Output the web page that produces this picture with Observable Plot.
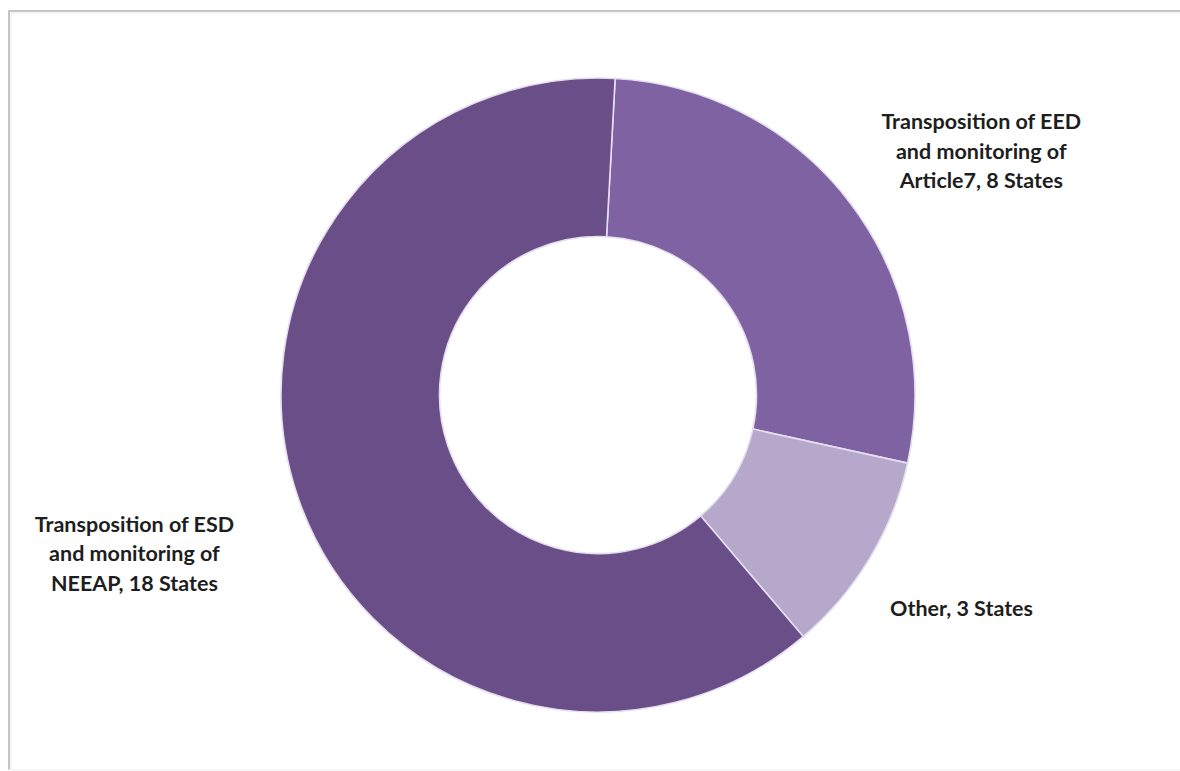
<!DOCTYPE html>
<html><head><meta charset="utf-8">
<script src="https://cdn.jsdelivr.net/npm/d3@7"></script>
<script src="https://cdn.jsdelivr.net/npm/@observablehq/plot@0.6"></script>
<style>
html,body{margin:0;padding:0;background:#fff;width:1180px;height:771px;overflow:hidden;}
#frame{position:absolute;left:8px;top:10px;width:1180px;height:757px;border-top:2px solid #c4c4c4;border-left:2px solid #c4c4c4;border-bottom:1px solid #f0f0f0;box-shadow:inset 2px 2px 3px rgba(0,0,0,0.05);}
#chart{position:absolute;left:0;top:0;}
</style></head><body><div id="frame"></div><div id="chart"></div>
<script>
// ---- data ----
const categories = ["Transposition of EED\nand monitoring of\nArticle7", "Other", "Transposition of ESD\nand monitoring of\nNEEAP"];
const states = [8, 3, 18];
const unit = "States";
const colors = ["#7f62a2", "#b5a8ca", "#6a4e87"];

// ---- layout ----
const W = 1180, H = 771;
const cxPx = 598, cyPx = 395, Rpx = 317;
const innerRatio = 0.5;
const startDeg = 3.1;
const labelGap = [30, 34, 64];
const labelTurnDeg = [4.5, -0.8, 0];
const fontSize = 21.5, lineH = 1.37;

const data = categories.map((c, i) => ({category: c, value: states[i], color: colors[i]}));
const arcs = d3.pie().sort(null).value(d => d.value)
  .startAngle(startDeg * Math.PI / 180).endAngle(startDeg * Math.PI / 180 + 2 * Math.PI)(data);

const ctx = document.createElement("canvas").getContext("2d");
ctx.font = `bold ${fontSize}px Lato`;
const labels = arcs.map((a, i) => {
  const text = `${a.data.category}, ${a.data.value} ${unit}`;
  const lines = text.split("\n");
  const w = d3.max(lines, l => ctx.measureText(l).width);
  const h = lines.length * fontSize * lineH;
  const mid = (a.startAngle + a.endAngle) / 2 + labelTurnDeg[i] * Math.PI / 180;
  const D = Rpx + labelGap[i] + Math.abs(Math.sin(mid)) * w / 2 + Math.abs(Math.cos(mid)) * h / 2;
  return {text, x: D / Rpx * Math.sin(mid), y: D / Rpx * Math.cos(mid)};
});

function donut(index, {x, y}) {
  const cx = x(0), cy = y(0), R = x(1) - x(0);
  const arc = d3.arc().innerRadius(R * innerRatio).outerRadius(R);
  const g = d3.create("svg:g").attr("transform", `translate(${cx},${cy})`);
  g.selectAll("path").data(arcs).join("path")
    .attr("d", arc)
    .attr("fill", d => d.data.color)
    .attr("stroke", "#e6def0")
    .attr("stroke-width", 1.6);
  return g.node();
}

const chart = Plot.plot({
  width: W, height: H, margin: 0,
  style: {background: "transparent", fontFamily: "Lato"},
  x: {domain: [-1, 1], range: [cxPx - Rpx, cxPx + Rpx], axis: null},
  y: {domain: [-1, 1], range: [cyPx + Rpx, cyPx - Rpx], axis: null},
  marks: [
    donut,
    Plot.text(labels, {x: "x", y: "y", text: "text", fontSize, fontWeight: "bold",
      fill: "#1e1e1e", lineHeight: lineH, textAnchor: "middle", fontFamily: "Lato"})
  ]
});
document.getElementById("chart").appendChild(chart);
</script>
</body></html>
